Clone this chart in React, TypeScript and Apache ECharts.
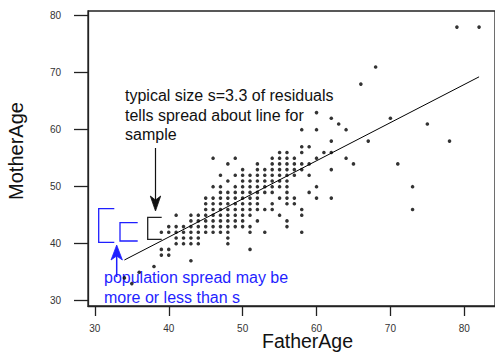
import React, { useEffect, useRef } from "react";
import * as echarts from "echarts";

// Father age (x) and the mother ages (y) observed at that father age
const fatherAge: number[] = [
  34, 35, 36, 38, 39, 40, 41, 42, 43, 44, 45, 46, 47, 48, 49, 50, 51, 52, 53, 54,
  55, 56, 57, 58, 59, 60, 61, 62, 63, 64, 65, 66, 67, 68, 70, 71, 73, 75, 78, 79, 82,
];
const motherAges: number[][] = [
  [34],
  [33],
  [35],
  [36],
  [42, 39, 38],
  [43, 42, 39, 38],
  [45, 43, 42, 41, 40],
  [43, 42, 41, 40],
  [45, 44, 43, 42, 41, 40, 37],
  [45, 44, 43, 42, 41, 40],
  [48, 47, 46, 45, 44, 43, 42],
  [55, 50, 48, 47, 46, 45, 44, 43, 42],
  [52, 50, 49, 48, 47, 46, 45, 44, 43, 42],
  [54, 51, 49, 48, 47, 46, 45, 44, 43, 42, 41, 40],
  [55, 52, 50, 49, 48, 47, 46, 45, 44, 43],
  [53, 52, 51, 50, 49, 48, 47, 46, 45, 44, 43],
  [52, 51, 50, 49, 48, 47, 46, 45, 43, 42, 39],
  [54, 53, 52, 51, 50, 49, 48, 47, 46, 44],
  [53, 52, 51, 50, 49, 46, 42],
  [55, 54, 53, 52, 51, 50, 49, 47, 46],
  [56, 55, 54, 53, 52, 51, 50, 48, 45],
  [56, 55, 54, 53, 52, 51, 50, 49, 48, 47, 44, 43],
  [55, 54, 53, 52, 48, 47],
  [60, 57, 56, 54, 53, 46, 45, 42],
  [57, 54, 52, 49],
  [63, 60, 55, 50, 48],
  [56],
  [62, 58, 56, 53, 48],
  [61],
  [60, 55],
  [54],
  [68],
  [58],
  [71],
  [62],
  [54],
  [50, 46],
  [61],
  [58],
  [78],
  [78],
];

// Least-squares line end points (FatherAge, MotherAge)
const regressionLine: number[][] = [
  [34, 37.14],
  [82, 69.27],
];

const xTicks: number[] = [30, 40, 50, 60, 70, 80];
const yTicks: number[] = [30, 40, 50, 60, 70, 80];

const annotationLines: string[] = [
  "typical size s=3.3 of residuals",
  "tells spread about line for",
  "sample",
];
const blueLines: string[] = ["population spread may be", "more or less than s"];

const FONT = "'Liberation Sans', Arial, Helvetica, sans-serif";
const BLUE = "#1f1fff";
const INK = "#222";

export default function App() {
  const ref = useRef<HTMLDivElement>(null);

  useEffect(() => {
    if (!ref.current) return;
    const chart = echarts.init(ref.current, null, { renderer: "svg" });
    const points = fatherAge.flatMap((f, i) => motherAges[i].map((m) => [f, m]));

    const textEl = (text: string, x: number, y: number, color: string, size: number) => ({
      type: "text",
      x,
      y,
      style: {
        text,
        x: 0,
        y: 0,
        fill: color,
        font: `${size}px ${FONT}`,
        align: "left",
        verticalAlign: "middle",
        textAlign: "left",
        textVerticalAlign: "middle",
      },
    });

    chart.setOption({
      animation: false,
      backgroundColor: "#ffffff",
      textStyle: { fontFamily: FONT },
      grid: {
        left: 88,
        top: 11,
        width: 415,
        height: 295,
        show: true,
        borderColor: INK,
        borderWidth: 1.3,
        backgroundColor: "transparent",
      },
      xAxis: {
        type: "value",
        min: 29.071,
        max: 84.155,
        axisLine: { show: true, onZero: false, lineStyle: { color: INK, width: 1.3 } },
        axisTick: {
          show: true,
          inside: false,
          length: 10,
          customValues: xTicks,
          lineStyle: { color: INK, width: 1.3 },
        },
        axisLabel: {
          customValues: xTicks,
          margin: 17,
          fontSize: 10,
          lineHeight: 10,
          color: "#333",
          fontFamily: FONT,
        },
        splitLine: { show: false },
      },
      yAxis: {
        type: "value",
        min: 29.07,
        max: 80.82,
        axisLine: { show: true, onZero: false, lineStyle: { color: INK, width: 1.3 } },
        axisTick: {
          show: true,
          inside: false,
          length: 14,
          customValues: yTicks,
          lineStyle: { color: INK, width: 1.3 },
        },
        axisLabel: {
          customValues: yTicks,
          margin: 27,
          fontSize: 10,
          color: "#333",
          fontFamily: FONT,
        },
        splitLine: { show: false },
      },
      series: [
        {
          type: "scatter",
          data: points,
          symbol: "circle",
          symbolSize: 3.6,
          itemStyle: { color: "#000" },
          silent: true,
        },
        {
          type: "line",
          data: regressionLine,
          showSymbol: false,
          symbol: "none",
          lineStyle: { color: "#000", width: 1 },
          silent: true,
        },
      ],
      graphic: [
        // axis titles
        {
          type: "text",
          x: 307.5,
          y: 341,
          style: {
            text: "FatherAge",
            fill: "#111",
            font: `19.5px ${FONT}`,
            lineHeight: 16,
            align: "center",
            verticalAlign: "middle",
            textAlign: "center",
            textVerticalAlign: "middle",
          },
        },
        {
          type: "text",
          x: 16,
          y: 151,
          rotation: Math.PI / 2,
          style: {
            text: "MotherAge",
            fill: "#111",
            font: `20px ${FONT}`,
            align: "center",
            verticalAlign: "middle",
            textAlign: "center",
            textVerticalAlign: "middle",
          },
        },
        // black annotation
        textEl(annotationLines[0], 125, 95.5, "#111", 16),
        textEl(annotationLines[1], 125, 115.2, "#111", 16),
        textEl(annotationLines[2], 125, 134, "#111", 16),
        {
          type: "line",
          shape: { x1: 155.5, y1: 148, x2: 155.5, y2: 203 },
          style: { stroke: "#111", lineWidth: 1.2 },
        },
        {
          type: "polygon",
          shape: { points: [[150.3, 196], [155.5, 200], [160.7, 196], [155.5, 211]] },
          style: { fill: "#111", stroke: "#111", lineWidth: 0.8 },
        },
        {
          type: "polyline",
          shape: { points: [[161.7, 217.3], [147.7, 217.3], [147.7, 239.3], [161.7, 239.3]] },
          style: { stroke: "#222", lineWidth: 1.3, fill: null },
        },
        // blue annotation
        {
          type: "polyline",
          shape: { points: [[114.3, 208.7], [98.7, 208.7], [98.7, 242.3], [114.3, 242.3]] },
          style: { stroke: BLUE, lineWidth: 1.3, fill: null },
        },
        {
          type: "polyline",
          shape: { points: [[137.7, 222.7], [120, 222.7], [120, 241], [137.7, 241]] },
          style: { stroke: BLUE, lineWidth: 1.3, fill: null },
        },
        {
          type: "line",
          shape: { x1: 116.7, y1: 277, x2: 116.7, y2: 252 },
          style: { stroke: BLUE, lineWidth: 1.5 },
        },
        {
          type: "polygon",
          shape: { points: [[111, 260], [116.7, 256], [122.4, 260], [116.7, 245]] },
          style: { fill: BLUE, stroke: BLUE, lineWidth: 0.8 },
        },
        textEl(blueLines[0], 104, 277.8, BLUE, 16),
        textEl(blueLines[1], 104, 297.2, BLUE, 16),
      ],
    });

    return () => chart.dispose();
  }, []);

  return (
    <div
      ref={ref}
      style={{ position: "fixed", left: 0, top: 0, width: 495, height: 352, background: "#fff" }}
    />
  );
}
